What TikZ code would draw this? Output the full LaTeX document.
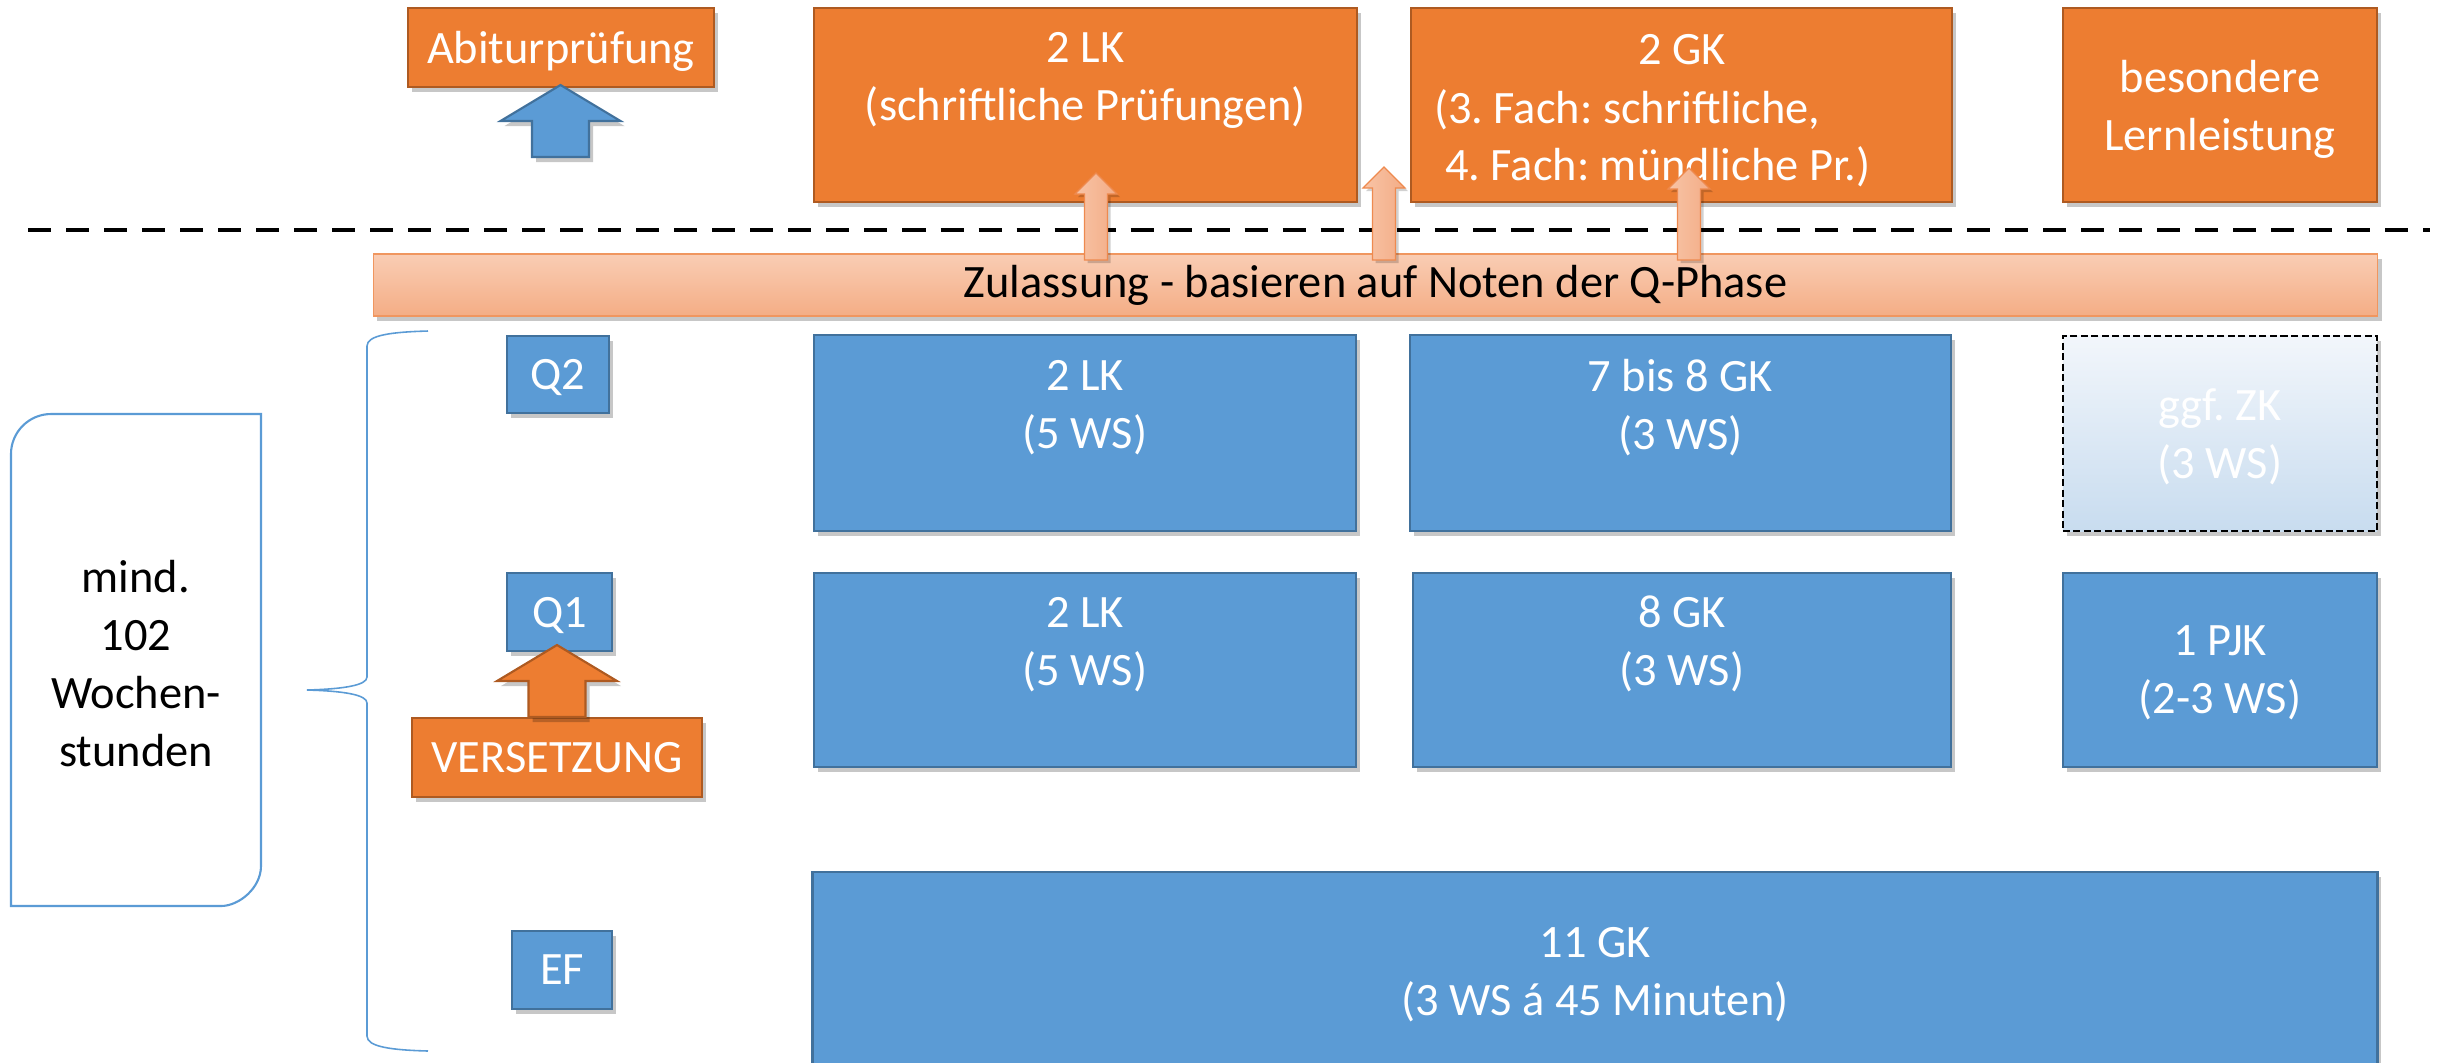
\documentclass[tikz,border=0pt]{standalone}
\usepackage{fontspec}
\setmainfont{Carlito}
\usetikzlibrary{shadows}
\frenchspacing
\definecolor{orf}{HTML}{ED7D31}
\definecolor{ord}{HTML}{AE5A21}
\definecolor{blf}{HTML}{5B9BD5}
\definecolor{bld}{HTML}{41719C}
\definecolor{zt}{HTML}{F9CDB4}
\definecolor{zb}{HTML}{F4AD85}
\definecolor{zd}{HTML}{F0965F}
\definecolor{sal}{HTML}{F8C4A6}
\definecolor{sar}{HTML}{F3AC86}
\definecolor{sad}{HTML}{EE8A4F}
\definecolor{zktop}{HTML}{F2F6FB}
\definecolor{zkmid}{HTML}{B5D1EB}
\definecolor{zkbot}{HTML}{C8DCEF}
\newcommand\mysmallarrow[2]{%
  \draw[smarr] ({#1-11.5},260) -- ({#1-11.5},{#2+21}) -- ({#1-21},{#2+21}) -- (#1,#2)
   -- ({#1+21},{#2+21}) -- ({#1+11.5},{#2+21}) -- ({#1+11.5},260) -- cycle;}
\newcommand\mybigarrow[5]{%
  \draw[#1] ({#2-28.5},#5) -- ({#2-28.5},#4) -- ({#2-60},#4) -- (#2,#3)
   -- ({#2+60},#4) -- ({#2+28.5},#4) -- ({#2+28.5},#5) -- cycle;}
\begin{document}
\frenchspacing
\begin{tikzpicture}[x=0.01cm,y=-0.01cm,
  every node/.style={font=\fontsize{13.2pt}{16.5pt}\selectfont\frenchspacing, align=center, inner sep=0pt, outer sep=0pt},
  shad/.style={drop shadow={shadow xshift=0.04cm, shadow yshift=-0.05cm, opacity=0.22, fill=black}},
  td/.style={text depth=0pt},
  obox/.style={shad, td, fill=orf, draw=ord, line width=0.6pt, text=white},
  bbox/.style={shad, td, fill=blf, draw=bld, line width=0.6pt, text=white},
  zkbox/.style={shad, td, top color=zktop, middle color=zkmid, bottom color=zkbot, draw=black,
     line width=0.55pt, dash pattern=on 0.07cm off 0.035cm, text=white},
  zbar/.style={shad, top color=zt, bottom color=zb, draw=zd, line width=0.5pt, text=black},
  wtxt/.style={text=white},
  sepline/.style={line width=1.15pt, dash pattern=on 0.23cm off 0.15cm},
  smarr/.style={drop shadow={shadow xshift=0.03cm, shadow yshift=-0.03cm, opacity=0.18, fill=black},
     left color=sal, right color=sar, draw=sad, line width=0.35pt},
  barrb/.style={shad, fill=blf, draw=bld, line width=0.6pt},
  barro/.style={shad, fill=orf, draw=ord, line width=0.6pt},
  brace/.style={draw=blf, line width=0.45pt},
  wbox/.style={draw=blf, line width=0.6pt}
]
\useasboundingbox (0,0) rectangle (2441,1062);

% separator line
\coordinate (dl) at (28,230);
\coordinate (dr) at (2430,230);
\draw[sepline] (dl) -- (dr);

% top row (Abitur)
\node[obox, minimum width=3.06cm, minimum height=0.79cm] (abi) at (561,47.5) {Abiturprüfung};
\node[obox, minimum width=5.43cm, minimum height=1.94cm] (lk0) at (1085.5,105) {2 LK\\(schriftliche Prüfungen)\\\mbox{}};
\node[obox, minimum width=5.41cm, minimum height=1.94cm] (gk0) at (1681.5,105) {};
\node[wtxt, anchor=base] (gk0a) at (1682,64) {2 GK};
\node[wtxt, anchor=base west] (gk0b) at (1434,123) {(3. Fach: schriftliche,};
\node[wtxt, anchor=base west] (gk0c) at (1445,180) {4. Fach: mündliche Pr.)};
\node[obox, minimum width=3.14cm, minimum height=1.94cm] (bll) at (2220,105) {besondere\\Lernleistung};

% Zulassung bar
\node[zbar, minimum width=20.03cm, minimum height=0.62cm] (zul) at (1375.5,285) {Zulassung - basieren auf Noten der Q-Phase};

% Q2 row
\node[bbox, minimum width=1.02cm, minimum height=0.77cm] (q2) at (558,374.5) {Q2};
\node[bbox, minimum width=5.42cm, minimum height=1.96cm] (lk2) at (1085,433) {2 LK\\(5 WS)\\\mbox{}};
\node[bbox, minimum width=5.41cm, minimum height=1.96cm] (gk2) at (1680.5,433) {7 bis 8 GK\\(3 WS)\\\mbox{}};
\node[zkbox, minimum width=3.14cm, minimum height=1.95cm] (zk) at (2220,433.5) {ggf. ZK\\(3 WS)};

% Q1 row
\node[bbox, minimum width=1.05cm, minimum height=0.78cm] (q1) at (559.5,612) {Q1};
\node[bbox, minimum width=5.42cm, minimum height=1.94cm] (lk1) at (1085,670) {2 LK\\(5 WS)\\\mbox{}};
\node[bbox, minimum width=5.38cm, minimum height=1.94cm] (gk1) at (1682,670) {8 GK\\(3 WS)\\\mbox{}};
\node[bbox, minimum width=3.14cm, minimum height=1.94cm] (pjk) at (2220,670) {1 PJK\\(2-3 WS)};
\node[obox, minimum width=2.90cm, minimum height=0.79cm] (vers) at (557,757.5) {VERSETZUNG};

% EF row
\node[bbox, minimum width=1.00cm, minimum height=0.78cm] (ef) at (562,970) {EF};
\node[bbox, minimum width=15.64cm, minimum height=1.98cm] (efgk) at (1595,971) {11 GK\\(3 WS á 45 Minuten)};

% left box and brace
\node[td, minimum width=2.50cm, minimum height=4.92cm, text=black] (wochen) at (136,663) {mind.\\102\\Wochen-\\stunden};
\draw[wbox] (51,414) -- (261,414) -- (261,866) .. controls (261,888) and (239,906) .. (221,906)
   -- (11,906) -- (11,454) .. controls (11,432) and (29,414) .. (51,414) -- cycle;
\draw[brace] (428,331) .. controls (392,332) and (367,335) .. (367,346) -- (367,677)
   .. controls (367,685) and (345,689) .. (307,690)
   .. controls (345,691) and (367,695) .. (367,703) -- (367,1036)
   .. controls (367,1047) and (392,1050) .. (428,1051);

% block arrows
\mybigarrow{barrb}{560.5}{85}{121}{157}
\mybigarrow{barro}{557}{645}{681}{717}

% small arrows from the bar
\mysmallarrow{1096}{173}
\mysmallarrow{1384}{167}
\mysmallarrow{1689}{168}
\end{tikzpicture}
\end{document}
